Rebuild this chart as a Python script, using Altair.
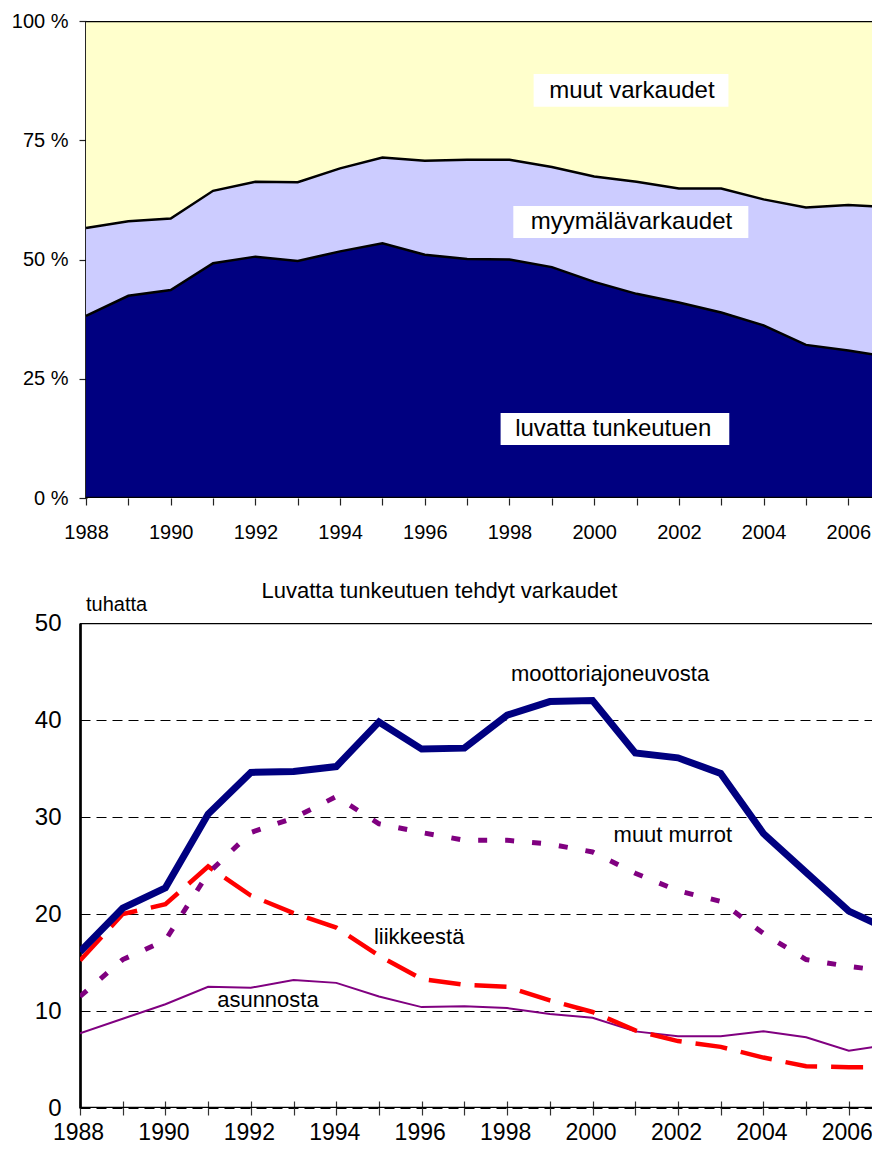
import altair as alt
import pandas as pd

FONT = "Liberation Sans"

# ---------------- data ----------------
# the picture is cut at the right edge a little before 2007; the last
# value of each list is the value read at that edge
years = list(range(1988, 2008))

# shares (%) of thefts, top chart
series_top = ["luvatta tunkeutuen", "myymälävarkaudet", "muut varkaudet"]
colors_top = ["#000080", "#CCCCFF", "#FFFFCC"]
luvatta_share = [38.2, 42.4, 43.6, 49.2, 50.6, 49.7, 51.7, 53.4, 51.0, 50.1,
                 50.0, 48.4, 45.3, 42.8, 41.0, 38.9, 36.2, 32.1, 30.9, 29.9]
myymala_share = [18.4, 15.6, 15.0, 15.2, 15.7, 16.5, 17.4, 18.0, 19.7, 20.8,
                 20.9, 21.0, 22.1, 23.5, 23.9, 26.0, 26.4, 28.8, 30.5, 31.2]
muut_share = [43.4, 42.0, 41.4, 35.6, 33.7, 33.8, 30.9, 28.6, 29.3, 29.1,
              29.1, 30.6, 32.6, 33.7, 35.1, 35.1, 37.4, 39.1, 38.6, 38.9]

# thousands, bottom chart
moottori = [16.1, 20.6, 22.7, 30.3, 34.6, 34.7, 35.2, 39.8, 37.0, 37.1,
            40.5, 41.9, 42.0, 36.6, 36.1, 34.5, 28.3, 24.3, 20.3, 18.8]
muut_murrot = [11.5, 15.3, 17.3, 24.2, 28.4, 29.9, 32.1, 29.3, 28.4, 27.6,
               27.6, 27.2, 26.4, 24.2, 22.4, 21.3, 18.0, 15.3, 14.6, 14.2]
liikkeesta = [15.2, 20.0, 21.0, 24.9, 21.9, 20.1, 18.6, 15.7, 13.3, 12.7,
              12.5, 11.1, 9.9, 8.0, 6.9, 6.3, 5.2, 4.3, 4.2, 4.2]
asunnosta = [7.7, 9.2, 10.7, 12.5, 12.4, 13.2, 12.9, 11.5, 10.4, 10.5,
             10.3, 9.7, 9.3, 7.9, 7.4, 7.4, 7.9, 7.3, 5.9, 6.4]

tick_years = list(range(1988, 2007))
top_y_ticks = [0, 25, 50, 75, 100]
bottom_y_ticks = [0, 10, 20, 30, 40, 50]

title_bottom = "Luvatta tunkeutuen tehdyt varkaudet"
unit_label = "tuhatta"

# label annotations (data coordinates)
top_labels = ["muut varkaudet", "myymälävarkaudet", "luvatta tunkeutuen"]
top_lab_x = [2000.89, 2000.88, 2000.45]
top_lab_y = [85.4, 57.9, 14.5]
top_box_x0 = [1998.57, 1998.09, 1997.79]
top_box_x1 = [2003.17, 2003.64, 2003.19]
top_box_y0 = [82.0, 54.5, 11.1]
top_box_y1 = [88.9, 61.2, 17.8]

bot_labels = ["moottoriajoneuvosta", "muut murrot", "liikkeestä", "asunnosta"]
bot_lab_x = [2000.41, 2001.88, 1995.94, 1992.40]
bot_lab_y = [44.7, 28.1, 17.66, 11.1]

# ---------------- tables ----------------
rows = []
for idx, (name, vals) in enumerate(zip(series_top, [luvatta_share, myymala_share, muut_share])):
    for yr, v in zip(years, vals):
        rows.append({"year": yr, "series": name, "idx": idx, "share": v})
df_top = pd.DataFrame(rows)

df_top_lab = pd.DataFrame({"text": top_labels, "x": top_lab_x, "y": top_lab_y,
                           "x0": top_box_x0, "x1": top_box_x1,
                           "y0": top_box_y0, "y1": top_box_y1})
df_border_top = pd.DataFrame({"v": [0, 100]})

bot_series = {
    "asunnosta": asunnosta,
    "liikkeestä": liikkeesta,
    "muut murrot": muut_murrot,
    "moottoriajoneuvosta": moottori,
}
df_bot = pd.DataFrame([{"year": yr, "series": s, "value": v}
                       for s, vals in bot_series.items() for yr, v in zip(years, vals)])
df_bot_lab = pd.DataFrame({"text": bot_labels, "x": bot_lab_x, "y": bot_lab_y})
df_border_bot = pd.DataFrame({"v": [0, 50]})

# ---------------- top chart ----------------
xs_top = alt.Scale(domain=[1987.858, 2006.749], nice=False, zero=False, clamp=True)
ys_top = alt.Scale(domain=[0, 100], nice=False)

x_axis_top = alt.Axis(values=tick_years, format="d",
                      labelExpr="datum.value % 2 == 0 ? datum.label : ''",
                      domain=False, grid=False, ticks=True, tickSize=7,
                      tickColor="#222", tickWidth=1.2,
                      labelFontSize=20, labelFont=FONT, labelColor="black",
                      labelPadding=17, labelFlush=False, labelOverlap=False,
                      title=None)
y_axis_top = alt.Axis(values=top_y_ticks,
                      labelExpr="datum.value + ' %'",
                      domain=True, domainColor="black", domainWidth=2.7,
                      offset=-6, grid=False, tickSize=7, tickColor="#222",
                      tickWidth=1.2, labelFontSize=20, labelFont=FONT,
                      labelColor="black", labelPadding=11, title=None)

area = alt.Chart(df_top).mark_area(clip=True, opacity=1).encode(
    x=alt.X("year:Q", scale=xs_top, axis=x_axis_top),
    y=alt.Y("share:Q", stack="zero", scale=ys_top, axis=y_axis_top),
    color=alt.Color("series:N", scale=alt.Scale(domain=series_top, range=colors_top), legend=None),
    order=alt.Order("idx:Q", sort="ascending"),
)

bounds_top = alt.Chart(df_top).transform_stack(
    stack="share", groupby=["year"], as_=["s0", "s1"],
    sort=[alt.SortField("idx", order="ascending")],
).transform_filter(alt.datum.idx < 2).mark_line(
    clip=True, color="black", strokeWidth=2.5
).encode(
    x=alt.X("year:Q", scale=xs_top, axis=x_axis_top),
    y=alt.Y("s1:Q", scale=ys_top, axis=y_axis_top),
    detail="series:N",
)

border_top = alt.Chart(df_border_top).mark_rule(clip=True, color="black", strokeWidth=2.7).encode(
    x=alt.datum(1988), x2=alt.datum(2007), y=alt.Y("v:Q", scale=ys_top, axis=y_axis_top)
)

boxes_top = alt.Chart(df_top_lab).mark_rect(fill="white").encode(
    x=alt.X("x0:Q", scale=xs_top, axis=x_axis_top), x2="x1:Q",
    y=alt.Y("y0:Q", scale=ys_top, axis=y_axis_top), y2="y1:Q",
)
texts_top = alt.Chart(df_top_lab).mark_text(fontSize=24, font=FONT, color="black",
                                            align="center", baseline="middle").encode(
    x=alt.X("x:Q", scale=xs_top, axis=x_axis_top),
    y=alt.Y("y:Q", scale=ys_top, axis=y_axis_top), text="text:N"
)

top = alt.layer(area, bounds_top, border_top, boxes_top, texts_top).properties(width=800, height=477)

# ---------------- bottom chart ----------------
xs_bot = alt.Scale(domain=[1988, 2006.73], nice=False, zero=False, clamp=True)
ys_bot = alt.Scale(domain=[0, 50], nice=False)

x_axis_bot = alt.Axis(values=tick_years, format="d",
                      labelExpr="datum.value % 2 == 0 ? datum.label : ''",
                      domain=False, grid=False, ticks=True, tickSize=14, offset=-7,
                      tickColor="#333", tickWidth=1.2,
                      labelFontSize=23, labelFont=FONT, labelColor="black",
                      labelOffset=-2,
                      labelPadding=6, labelFlush=False, labelOverlap=False, title=None)
y_axis_bot = alt.Axis(values=bottom_y_ticks, domain=True, domainColor="black",
                      domainWidth=2.7, ticks=False, tickSize=0,
                      grid=True, gridColor="black", gridDash=[10, 6], gridWidth=1,
                      labelFontSize=24, labelFont=FONT, labelColor="black",
                      labelPadding=19, title=None)

styles = {
    "asunnosta": dict(color="#800080", strokeWidth=2),
    "liikkeestä": dict(color="#FF0000", strokeWidth=4.5, strokeDash=[32, 14]),
    "muut murrot": dict(color="#800080", strokeWidth=5, strokeDash=[9, 18]),
    "moottoriajoneuvosta": dict(color="#000080", strokeWidth=7),
}

line_layers = []
for s, st in styles.items():
    line_layers.append(
        alt.Chart(df_bot).transform_filter(alt.datum.series == s)
        .mark_line(clip=True, strokeJoin="miter", strokeCap="butt", **st)
        .encode(x=alt.X("year:Q", scale=xs_bot, axis=x_axis_bot),
                y=alt.Y("value:Q", scale=ys_bot, axis=y_axis_bot))
    )

border_bot = alt.Chart(df_border_bot).mark_rule(clip=True, color="black", strokeWidth=2.7).encode(
    x=alt.datum(1988), x2=alt.datum(2007), y=alt.Y("v:Q", scale=ys_bot, axis=y_axis_bot)
)

texts_bot = alt.Chart(df_bot_lab).mark_text(fontSize=22, font=FONT, color="black",
                                            align="center", baseline="middle").encode(
    x=alt.X("x:Q", scale=xs_bot, axis=x_axis_bot),
    y=alt.Y("y:Q", scale=ys_bot, axis=y_axis_bot), text="text:N"
)

title_mark = alt.Chart(pd.DataFrame({"t": [title_bottom]})).mark_text(
    fontSize=22, font=FONT, color="black", align="center", baseline="middle"
).encode(text="t:N", x=alt.value(359.5), y=alt.value(-32))

unit_mark = alt.Chart(pd.DataFrame({"t": [unit_label]})).mark_text(
    fontSize=20, font=FONT, color="black", align="left", baseline="middle"
).encode(text="t:N", x=alt.value(6), y=alt.value(-18.5))

bottom = alt.layer(*line_layers, border_bot, texts_bot, title_mark, unit_mark).properties(
    width=800, height=485)

chart = alt.vconcat(top, bottom, spacing=38).properties(
    padding={"left": 3, "top": 3, "right": -8, "bottom": 0},
    background="white",
).configure_view(stroke=None)

chart.save("out.html", embed_options={"renderer": "svg", "actions": False})
